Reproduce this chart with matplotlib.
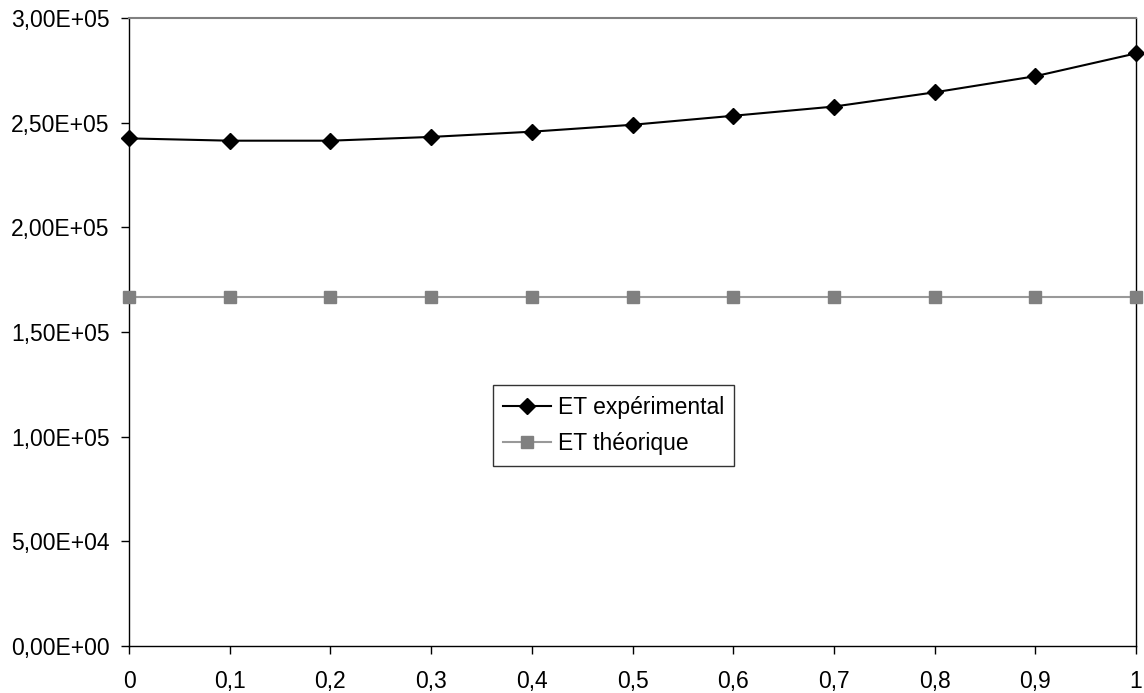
import matplotlib.pyplot as plt
from matplotlib.ticker import FuncFormatter

plt.rcParams['font.family'] = ['Liberation Sans', 'DejaVu Sans']

# Data
x = [0, 0.1, 0.2, 0.3, 0.4, 0.5, 0.6, 0.7, 0.8, 0.9, 1.0]
et_exp = [242500, 241400, 241400, 243200, 245700, 249000,
          253300, 257700, 264500, 272200, 283100]
et_theo = [166667] * len(x)

y_ticks = [0, 50000, 100000, 150000, 200000, 250000, 300000]
x_ticks = x

fig = plt.figure(figsize=(11.44, 6.93), dpi=100)
ax = fig.add_axes([0.1128, 0.0678, 0.993 - 0.1128, 0.974 - 0.0678])

ax.plot(x, et_exp, color='black', lw=1.5, marker='D', ms=8.5,
        label='ET expérimental', clip_on=False, zorder=3)
ax.plot(x, et_theo, color='#999999', lw=1.5, marker='s', ms=8.5,
        mfc='#808080', mec='#808080', label='ET théorique', clip_on=False, zorder=3)

ax.set_xlim(0, 1)
ax.set_ylim(0, 300000)
ax.set_xticks(x_ticks)
ax.set_yticks(y_ticks)


def fmt_sci(v, pos):
    s = '%.2E' % v
    return s.replace('.', ',')


def fmt_x(v, pos):
    s = ('%.1f' % v).replace('.', ',')
    if s == '0,0':
        return '0'
    if s == '1,0':
        return '1'
    return s


ax.yaxis.set_major_formatter(FuncFormatter(fmt_sci))
ax.xaxis.set_major_formatter(FuncFormatter(fmt_x))
ax.tick_params(axis='both', direction='out', length=6, width=1,
               labelsize=16.5, colors='black')
ax.tick_params(axis='x', pad=11)
ax.tick_params(axis='y', pad=8)

ax.spines['top'].set_color('#808080')
ax.spines['top'].set_linewidth(1.5)
for s in ['left', 'bottom', 'right']:
    ax.spines[s].set_color('black')
    ax.spines[s].set_linewidth(1)

leg = ax.legend(loc='upper left', bbox_to_anchor=(0.361, 0.415),
                fontsize=16.5, frameon=True, fancybox=False, edgecolor='black',
                handlelength=2.1, handletextpad=0.3, borderpad=0.45,
                labelspacing=0.6, borderaxespad=0)
leg.get_frame().set_linewidth(1)

fig.savefig('out.png', dpi=100)
